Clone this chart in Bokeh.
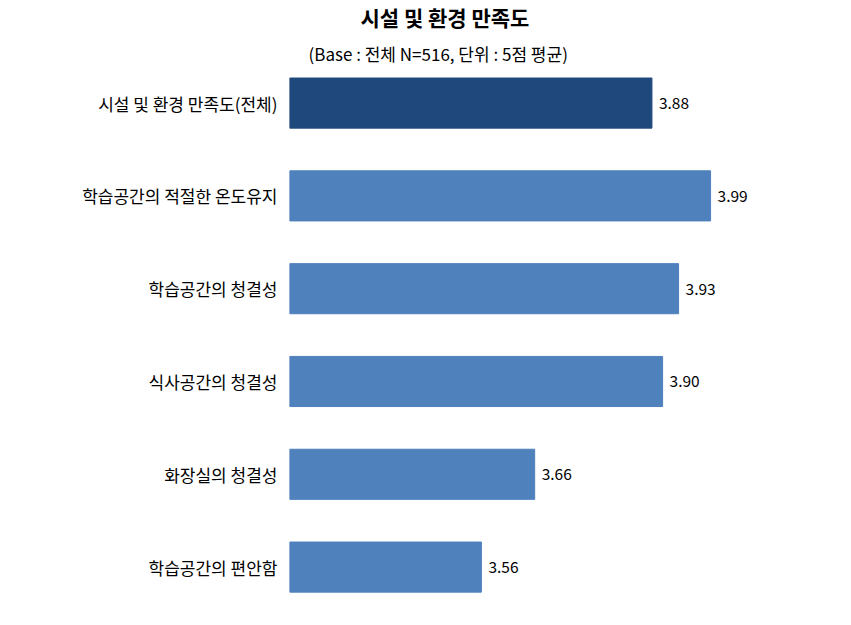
from bokeh.plotting import figure
from bokeh.models import ColumnDataSource, Range1d, Title, FixedTicker
from bokeh.core.properties import value
from bokeh.embed import file_html
from bokeh.resources import INLINE

categories = ["시설 및 환경 만족도(전체)", "학습공간의 적절한 온도유지", "학습공간의 청결성",
              "식사공간의 청결성", "화장실의 청결성", "학습공간의 편안함"]
scores = [3.88, 3.99, 3.93, 3.90, 3.66, 3.56]
bar_colors = ["#1F497D", "#4F81BD", "#4F81BD", "#4F81BD", "#4F81BD", "#4F81BD"]
title_text = "시설 및 환경 만족도"
subtitle_text = "(Base : 전체 N=516, 단위 : 5점 평균)"

FONT = "Noto Sans CJK KR"
idx = list(range(len(categories)))
src = ColumnDataSource(dict(y=idx, v=scores, c=bar_colors,
                            lbl=[f"{s:.2f}" for s in scores]))

p = figure(width=851, height=625, output_backend="svg", toolbar_location=None,
           x_range=Range1d(3.2, 4.2), y_range=Range1d(5.5, -0.351),
           min_border_left=289, min_border_right=29, min_border_top=70,
           min_border_bottom=12, outline_line_color=None)

p.hbar(y="y", left=0, right="v", height=0.54, color="c", source=src)
p.text(x="v", y="y", text="lbl", source=src, x_offset=7, text_baseline="middle",
       text_align="left", text_font=value(FONT), text_font_size="15.5px", text_color="#000000")

p.xaxis.visible = False
p.xgrid.visible = False
p.ygrid.visible = False
ya = p.yaxis[0]
ya.ticker = FixedTicker(ticks=idx)
ya.major_label_overrides = {i: c for i, c in zip(idx, categories)}
ya.axis_line_color = None
ya.major_tick_line_color = None
ya.minor_tick_line_color = None
ya.major_label_standoff = 6
ya.major_label_text_font = FONT
ya.major_label_text_font_size = "17px"
ya.major_label_text_color = "#000000"

sub = Title(text=subtitle_text, align="left", offset=19, text_font=FONT,
            text_font_size="17px", text_font_style="normal", text_color="#000000")
p.add_layout(sub, "above")
main = Title(text=title_text, align="left", offset=71, text_font=FONT, standoff=1,
             vertical_align="middle",
             text_font_size="21px", text_font_style="bold", text_color="#000000")
p.add_layout(main, "above")

open("out.html", "w").write(file_html(p, INLINE))
